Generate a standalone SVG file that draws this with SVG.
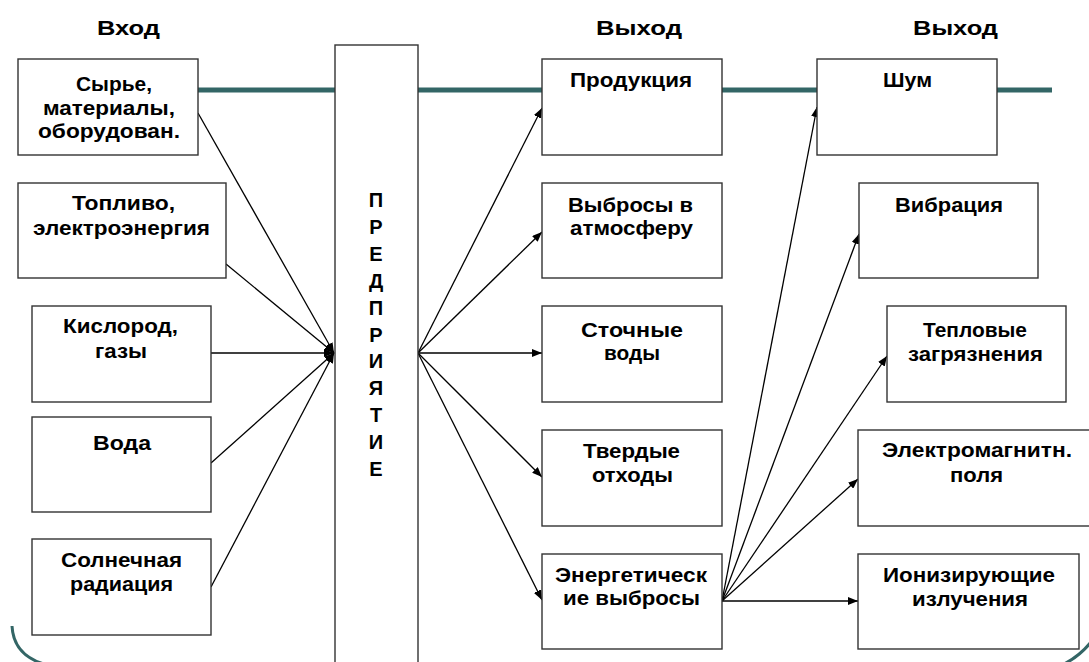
<svg xmlns="http://www.w3.org/2000/svg" width="1089" height="662" viewBox="0 0 1089 662">
<style>
.box{fill:#fff;stroke:#333;stroke-width:1.4}
.t{font-family:"Liberation Sans",Arial,sans-serif;font-weight:bold;font-size:20px;fill:#000}
.v{font-family:"Liberation Sans",Arial,sans-serif;font-weight:bold;font-size:20px;fill:#000;text-anchor:middle}
.c{stroke:#000;stroke-width:1.3;fill:none}
.a{marker-end:url(#ah)}
.frame{fill:none;stroke:#336666;stroke-width:3}
</style>
<defs>
<marker id="ah" markerUnits="userSpaceOnUse" markerWidth="11" markerHeight="8" refX="10" refY="4" orient="auto">
<path d="M0,0 L10,4 L0,8 z" fill="#000"/>
</marker>
</defs>
<rect width="1089" height="662" fill="#fff"/>
<path class="frame" d="M12,626 C13,645 24,658 44,664"/>
<path class="frame" d="M1064,664 C1074,659 1083,652 1091,642"/>
<line x1="150" y1="90" x2="1052" y2="90" stroke="#336666" stroke-width="5"/>
<g id="titles">
<text class="t" x="97" y="35" textLength="63" lengthAdjust="spacingAndGlyphs">Вход</text>
<text class="t" x="596" y="35" textLength="86" lengthAdjust="spacingAndGlyphs">Выход</text>
<text class="t" x="913" y="35" textLength="85" lengthAdjust="spacingAndGlyphs">Выход</text>
</g>
<g id="connectors">
<line class="c a" x1="198" y1="113" x2="334" y2="353"/>
<line class="c a" x1="226" y1="264" x2="334" y2="353"/>
<line class="c a" x1="211" y1="353" x2="334" y2="353"/>
<line class="c a" x1="211" y1="463" x2="334" y2="353"/>
<line class="c a" x1="211" y1="587" x2="334" y2="353"/>
<line class="c a" x1="418" y1="353" x2="542" y2="108"/>
<line class="c a" x1="418" y1="353" x2="542" y2="232"/>
<line class="c a" x1="418" y1="353" x2="542" y2="353"/>
<line class="c a" x1="418" y1="353" x2="542" y2="477"/>
<line class="c a" x1="418" y1="353" x2="542" y2="600"/>
<line class="c a" x1="722" y1="601" x2="817" y2="107"/>
<line class="c a" x1="722" y1="601" x2="859" y2="234"/>
<line class="c a" x1="722" y1="601" x2="887" y2="356"/>
<line class="c a" x1="722" y1="601" x2="858" y2="479"/>
<line class="c a" x1="722" y1="601" x2="858" y2="601"/>
</g>
<g id="n-syrye">
<rect class="box" x="18" y="59" width="180" height="96"/>
<text class="t" x="76" y="91" textLength="76" lengthAdjust="spacingAndGlyphs">Сырье,</text>
<text class="t" x="43" y="115" textLength="132" lengthAdjust="spacingAndGlyphs">материалы,</text>
<text class="t" x="38" y="138" textLength="142" lengthAdjust="spacingAndGlyphs">оборудован.</text>
</g>
<g id="n-toplivo">
<rect class="box" x="18" y="183" width="208" height="95"/>
<text class="t" x="72" y="210" textLength="103" lengthAdjust="spacingAndGlyphs">Топливо,</text>
<text class="t" x="33" y="235" textLength="177" lengthAdjust="spacingAndGlyphs">электроэнергия</text>
</g>
<g id="n-kislorod">
<rect class="box" x="32" y="306" width="179" height="96"/>
<text class="t" x="63" y="333" textLength="115" lengthAdjust="spacingAndGlyphs">Кислород,</text>
<text class="t" x="95" y="358" textLength="52" lengthAdjust="spacingAndGlyphs">газы</text>
</g>
<g id="n-voda">
<rect class="box" x="32" y="417" width="179" height="95"/>
<text class="t" x="93" y="450" textLength="58" lengthAdjust="spacingAndGlyphs">Вода</text>
</g>
<g id="n-solnce">
<rect class="box" x="32" y="539" width="179" height="96"/>
<text class="t" x="61" y="567" textLength="121" lengthAdjust="spacingAndGlyphs">Солнечная</text>
<text class="t" x="70" y="591" textLength="103" lengthAdjust="spacingAndGlyphs">радиация</text>
</g>
<g id="n-predpriyatie">
<rect class="box" x="335" y="45" width="83" height="630"/>
<text class="v" x="376" y="207">П</text>
<text class="v" x="376" y="234">Р</text>
<text class="v" x="376" y="261">Е</text>
<text class="v" x="376" y="288">Д</text>
<text class="v" x="376" y="315">П</text>
<text class="v" x="376" y="342">Р</text>
<text class="v" x="376" y="368">И</text>
<text class="v" x="376" y="395">Я</text>
<text class="v" x="376" y="422">Т</text>
<text class="v" x="376" y="449">И</text>
<text class="v" x="376" y="476">Е</text>
</g>
<g id="n-produkciya">
<rect class="box" x="542" y="59" width="180" height="96"/>
<text class="t" x="570" y="87" textLength="122" lengthAdjust="spacingAndGlyphs">Продукция</text>
</g>
<g id="n-vybrosy">
<rect class="box" x="542" y="183" width="180" height="95"/>
<text class="t" x="568" y="212" textLength="125" lengthAdjust="spacingAndGlyphs">Выбросы в</text>
<text class="t" x="570" y="235" textLength="123" lengthAdjust="spacingAndGlyphs">атмосферу</text>
</g>
<g id="n-stochnye">
<rect class="box" x="542" y="306" width="180" height="96"/>
<text class="t" x="581" y="337" textLength="102" lengthAdjust="spacingAndGlyphs">Сточные</text>
<text class="t" x="604" y="360" textLength="56" lengthAdjust="spacingAndGlyphs">воды</text>
</g>
<g id="n-tverdye">
<rect class="box" x="542" y="430" width="180" height="96"/>
<text class="t" x="583" y="458" textLength="97" lengthAdjust="spacingAndGlyphs">Твердые</text>
<text class="t" x="592" y="482" textLength="81" lengthAdjust="spacingAndGlyphs">отходы</text>
</g>
<g id="n-energ">
<rect class="box" x="542" y="554" width="180" height="95"/>
<text class="t" x="555" y="582" textLength="152" lengthAdjust="spacingAndGlyphs">Энергетическ</text>
<text class="t" x="563" y="605" textLength="137" lengthAdjust="spacingAndGlyphs">ие выбросы</text>
</g>
<g id="n-shum">
<rect class="box" x="817" y="59" width="180" height="96"/>
<text class="t" x="883" y="87" textLength="49" lengthAdjust="spacingAndGlyphs">Шум</text>
</g>
<g id="n-vibraciya">
<rect class="box" x="859" y="183" width="179" height="95"/>
<text class="t" x="895" y="212" textLength="108" lengthAdjust="spacingAndGlyphs">Вибрация</text>
</g>
<g id="n-teplovye">
<rect class="box" x="887" y="306" width="179" height="96"/>
<text class="t" x="923" y="337" textLength="104" lengthAdjust="spacingAndGlyphs">Тепловые</text>
<text class="t" x="908" y="361" textLength="135" lengthAdjust="spacingAndGlyphs">загрязнения</text>
</g>
<g id="n-elektro">
<rect class="box" x="858" y="430" width="240" height="96"/>
<text class="t" x="882" y="457" textLength="190" lengthAdjust="spacingAndGlyphs">Электромагнитн.</text>
<text class="t" x="950" y="482" textLength="53" lengthAdjust="spacingAndGlyphs">поля</text>
</g>
<g id="n-ioniz">
<rect class="box" x="858" y="554" width="221" height="95"/>
<text class="t" x="883" y="582" textLength="172" lengthAdjust="spacingAndGlyphs">Ионизирующие</text>
<text class="t" x="912" y="606" textLength="116" lengthAdjust="spacingAndGlyphs">излучения</text>
</g>
</svg>
